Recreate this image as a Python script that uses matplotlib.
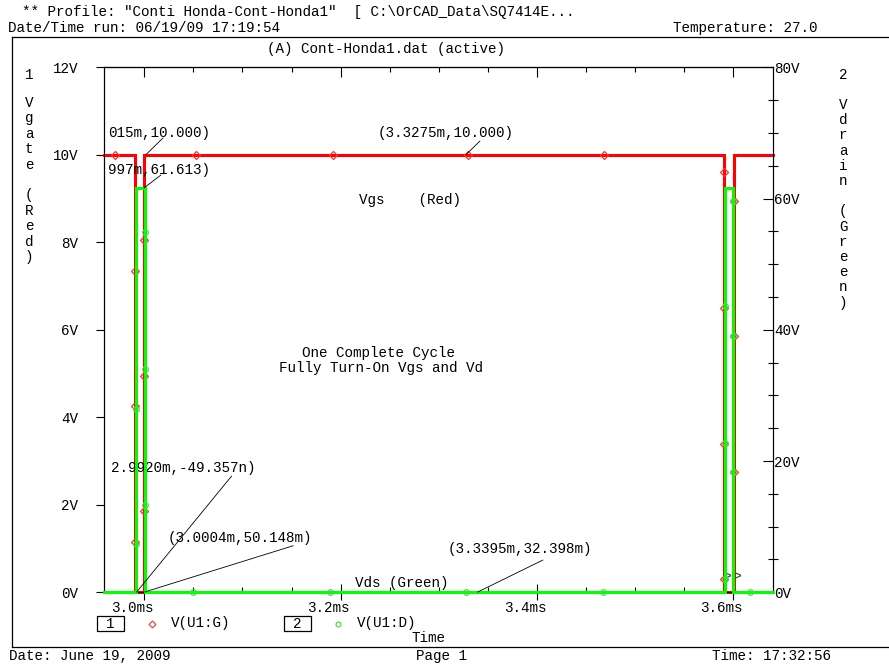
import matplotlib
matplotlib.use('Agg')
import matplotlib.pyplot as plt
from matplotlib.lines import Line2D
from matplotlib.patches import Rectangle
from matplotlib.transforms import ScaledTranslation
from matplotlib.ticker import MultipleLocator

plt.rcParams['font.family'] = ['Liberation Mono', 'DejaVu Sans Mono']
plt.rcParams['font.size'] = 10.25

W, H = 889, 664

# V(U1:G) gate drive, time in ms
vgs_time = [2.9593, 2.9905, 2.9905, 3.0000, 3.0000, 3.5905, 3.5905, 3.6005, 3.6005, 3.6401]
vgs_volt = [10, 10, 0, 0, 10, 10, 0, 0, 10, 10]
# V(U1:D) drain voltage
vd_time = [2.9593, 2.9915, 2.9915, 3.0004, 3.0004, 3.5915, 3.5915, 3.6000, 3.6000, 3.6401]
vd_volt = [0, 0, 61.613, 61.613, 0, 0, 61.613, 61.613, 0, 0]

# sample symbols along the traces
vgs_mark_t = [2.9702, 2.9905, 2.9905, 2.9905, 3.0, 3.0, 3.0, 3.0527, 3.1922, 3.3297, 3.4682,
              3.5905, 3.5905, 3.5905, 3.5905, 3.6005, 3.6005, 3.6005]
vgs_mark_v = [10, 7.35, 4.25, 1.15, 8.05, 4.95, 1.85, 10, 10, 10, 10,
              9.6, 6.5, 3.4, 0.3, 8.95, 5.85, 2.75]
vd_mark_t = [2.9915, 2.9915, 3.0004, 3.0004, 3.0004, 3.0493, 3.1892, 3.3278, 3.4669,
             3.5915, 3.5915, 3.5915, 3.6, 3.6, 3.6, 3.6171]
vd_mark_v = [27.9, 7.4, 54.9, 34.0, 13.3, 0, 0, 0, 0,
             43.6, 22.7, 2.0, 59.7, 39.0, 18.3, 0]

x_ticks = [3.0, 3.2, 3.4, 3.6]
x_tick_texts = ['3.0ms', '3.2ms', '3.4ms', '3.6ms']
vgs_ticks = [0, 2, 4, 6, 8, 10, 12]
vd_ticks = [0, 20, 40, 60, 80]

# cursor readouts: text, text pos (left axis data), leader start, target, axis of target
cursors = [
    ('015m,10.000)', (2.9630, 10.498), (3.0191, 10.384), (3.0015, 10.000), 'g'),
    ('997m,61.613)', (2.9630, 9.653), (3.0170, 9.538), (2.9997, 61.613), 'd'),
    ('2.9920m,-49.357n)', (2.9661, 2.841), (3.0890, 2.658), (2.9920, -49.357e-9), 'd'),
    ('(3.0004m,50.148m)', (3.0238, 1.248), (3.1518, 1.065), (3.0004, 50.148e-3), 'd'),
    ('(3.3275m,10.000)', (3.2381, 10.498), (3.3420, 10.316), (3.3275, 10.000), 'g'),
    ('(3.3395m,32.398m)', (3.3094, 0.990), (3.4061, 0.738), (3.3395, 32.398e-3), 'd'),
]


def fpos(x, y):
    return x / W, 1 - y / H


fig = plt.figure(figsize=(W / 100, H / 100), dpi=100)
ax = fig.add_axes([104.3 / W, (H - 592.3) / H, (772.7 - 104.3) / W, (592.3 - 67.3) / H])
ax2 = ax.twinx()

ax.plot(vgs_time, vgs_volt, color='#ff0000', linewidth=2.2, solid_joinstyle='miter',
        clip_on=False, zorder=3)
ax.plot(vgs_mark_t, vgs_mark_v, linestyle='none', marker='D', markersize=4,
        markerfacecolor='none', markeredgecolor='#ff3030', markeredgewidth=0.9,
        clip_on=False, zorder=4)
ax2.plot(vd_time, vd_volt, color='#00ff00', linewidth=2.2, solid_joinstyle='miter',
         clip_on=False, zorder=3)
ax2.plot(vd_mark_t, vd_mark_v, linestyle='none', marker='o', markersize=4,
         markerfacecolor='none', markeredgecolor='#40e040', markeredgewidth=0.9,
         clip_on=False, zorder=4)

ax.set_xlim(2.9593, 3.6401)
ax.set_ylim(0, 12)
ax2.set_ylim(0, 80)

for s in ax.spines.values():
    s.set_linewidth(0.8)
for s in ax2.spines.values():
    s.set_linewidth(0.8)

# x axis: bottom labelled, top plain ticks
ax.set_xticks(x_ticks)
ax.set_xticklabels(x_tick_texts)
ax.xaxis.set_minor_locator(MultipleLocator(0.05))
ax.tick_params(axis='x', which='major', direction='inout', length=11, width=0.8, pad=1, top=False)
ax.tick_params(axis='x', which='minor', direction='in', length=3.6, width=0.8, top=False)
for lab in ax.get_xticklabels():
    lab.set_transform(lab.get_transform() + ScaledTranslation(-0.12, 0, fig.dpi_scale_trans))

top = ax.secondary_xaxis('top')
top.set_xticks(x_ticks)
top.xaxis.set_minor_locator(MultipleLocator(0.05))
top.tick_params(which='major', direction='in', length=7.2, width=0.8, labeltop=False)
top.tick_params(which='minor', direction='in', length=3.6, width=0.8)
top.spines['top'].set_linewidth(0.8)

ax.set_yticks(vgs_ticks)
ax.set_yticklabels(['%dV' % v for v in vgs_ticks])
ax.tick_params(axis='y', direction='out', length=5.8, width=0.8, pad=13)

ax2.set_yticks(vd_ticks)
ax2.set_yticklabels(['%dV' % v for v in vd_ticks])
ax2.yaxis.set_minor_locator(MultipleLocator(5))
ax2.tick_params(axis='y', which='major', direction='in', length=7.2, width=0.8, pad=1)
ax2.tick_params(axis='y', which='minor', direction='inout', length=7.2, width=0.8)

# cursor readouts with leader lines
for txt, tpos, lstart, target, which in cursors:
    ax.text(tpos[0], tpos[1], txt, ha='left', va='center', zorder=5)
    tr = ax.transData if which == 'g' else ax2.transData
    ax2.annotate('', xy=target, xycoords=tr, xytext=lstart, textcoords=ax.transData,
                 arrowprops=dict(arrowstyle='-', color='black', linewidth=0.6,
                                 shrinkA=0, shrinkB=0), zorder=5)

ax.text(3.2707, 8.967, 'Vgs    (Red)', ha='center', va='center')
ax.text(3.2381, 5.470, 'One Complete Cycle', ha='center', va='center')
ax.text(3.2411, 5.127, 'Fully Turn-On Vgs and Vd', ha='center', va='center')
ax.text(3.2146, 0.213, 'Vds (Green)', ha='left', va='center')
ax.text(3.5884, 0.35, '>>', ha='left', va='center', fontsize=12, color='#444444')

# page header / footer
fig.text(*fpos(22, 12), '** Profile: "Conti Honda-Cont-Honda1"  [ C:\\OrCAD_Data\\SQ7414E...',
         ha='left', va='center')
fig.text(*fpos(8, 28), 'Date/Time run: 06/19/09 17:19:54', ha='left', va='center')
fig.text(*fpos(673, 28), 'Temperature: 27.0', ha='left', va='center')
fig.text(*fpos(267, 49), '(A) Cont-Honda1.dat (active)', ha='left', va='center')
fig.add_artist(Line2D([12 / W, 1], [1 - 37 / H] * 2, color='black', linewidth=0.9))
fig.add_artist(Line2D([12 / W, 1], [1 - 647 / H] * 2, color='black', linewidth=0.9))
fig.add_artist(Line2D([12 / W, 12 / W], [1 - 37 / H, 1 - 647 / H], color='black', linewidth=0.9))

fig.text(*fpos(29, 75), '1', ha='center', va='center')
fig.text(*fpos(843, 75), '2', ha='center', va='center')
for i, ch in enumerate('Vgate (Red)'):
    fig.text(*fpos(29, 103 + i * 15.4), ch, ha='center', va='center')
for i, ch in enumerate('Vdrain (Green)'):
    fig.text(*fpos(843, 105 + i * 15.2), ch, ha='center', va='center')

# trace legend
for bx, num in [(97, '1'), (284, '2')]:
    fig.add_artist(Rectangle(((bx) / W, 1 - 631 / H), 27 / W, 15 / H, fill=False,
                             edgecolor='black', linewidth=0.9, transform=fig.transFigure))
    fig.text(*fpos(bx + 13.5, 623.5), num, ha='center', va='center')
fig.add_artist(Line2D([152 / W], [1 - 623.5 / H], marker='D', markersize=3.5, linestyle='none',
                      markerfacecolor='none', markeredgecolor='#ff3030', markeredgewidth=0.8))
fig.add_artist(Line2D([337.5 / W], [1 - 623.5 / H], marker='o', markersize=3.5, linestyle='none',
                      markerfacecolor='none', markeredgecolor='#30e030', markeredgewidth=0.8))
fig.text(*fpos(171, 623.5), 'V(U1:G)', ha='left', va='center')
fig.text(*fpos(357, 623.5), 'V(U1:D)', ha='left', va='center')
fig.text(*fpos(429, 638), 'Time', ha='center', va='center')

fig.text(*fpos(9, 656), 'Date: June 19, 2009', ha='left', va='center')
fig.text(*fpos(442, 656), 'Page 1', ha='center', va='center')
fig.text(*fpos(712, 656), 'Time: 17:32:56', ha='left', va='center')

fig.savefig('out.png', dpi=100, facecolor='white')
